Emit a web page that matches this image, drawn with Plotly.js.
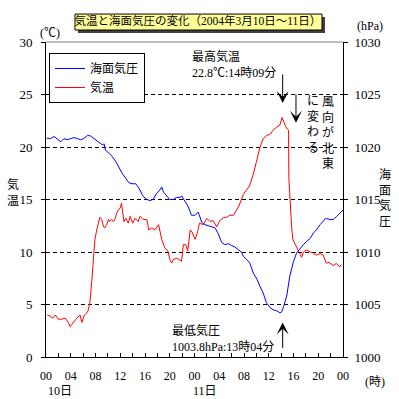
<!DOCTYPE html>
<html><head><meta charset="utf-8">
<script src="https://cdn.plot.ly/plotly-3.0.1.min.js"></script>
<style>html,body{margin:0;padding:0;background:#fff}#chart{width:399px;height:399px}</style>
</head><body><div id="chart"></div>
<script>
// Hours since 00:00 on the 10th
const tempHours = [0.2,0.65,1.1,1.5,2.0,2.5,3.1,3.6,3.9,4.4,5.0,5.5,5.8,6.2,6.6,6.8,7.1,7.4,7.7,7.9,8.2,8.5,8.7,9.0,9.3,9.5,9.8,10.1,10.3,10.6,10.9,11.2,11.4,11.7,12.0,12.2,12.4,12.6,12.9,13.3,13.6,14.0,14.4,14.9,15.2,15.7,16.3,16.6,17.1,17.6,18.2,18.4,18.7,19.2,19.7,20.0,20.3,20.6,21.1,21.5,21.9,22.2,22.6,22.9,23.3,23.6,24.1,24.5,24.8,25.4,26.0,26.5,27.0,27.6,28.1,28.7,29.2,29.7,30.3,30.8,31.2,31.9,32.4,32.9,33.5,34.1,34.6,35.1,35.6,36.2,36.7,37.3,37.8,38.15,38.4,38.7,39.0,39.2,39.25,39.45,39.7,39.9,40.2,40.5,41.0,41.3,41.6,42.1,42.7,43.2,43.7,44.3,44.8,45.3,45.8,46.4,46.9,47.5,47.7];
const tempValues = [4.0,3.9,3.7,4.0,3.6,3.6,3.7,3.3,2.9,3.3,3.7,4.0,3.3,4.0,4.2,4.4,5.2,7.2,9.7,11.2,12.1,12.9,13.3,13.1,12.4,12.3,12.6,13.1,12.9,13.1,12.9,13.2,13.7,14.0,14.2,14.65,13.9,12.9,13.2,12.75,13.4,12.75,13.2,12.9,13.4,13.1,13.1,12.1,12.3,12.1,12.6,11.9,11.2,10.4,10.1,9.3,8.95,9.3,9.4,9.3,9.1,10.7,10.7,10.1,12.1,11.9,11.2,11.9,12.75,12.6,13.2,12.9,13.0,12.4,13.0,13.3,13.3,13.5,13.5,14.0,14.4,15.5,15.9,16.3,17.4,18.7,20.0,20.8,21.1,21.2,21.6,21.9,22.1,22.8,22.4,22.0,21.7,21.6,17.0,14.7,12.4,11.2,10.8,10.4,9.9,9.5,10.0,10.2,10.0,9.9,9.7,9.85,9.7,8.95,9.0,8.7,8.9,8.6,8.8];

const presHours = [0.1,0.75,1.3,1.8,2.4,2.9,3.4,4.0,4.5,5.1,5.6,6.1,6.7,7.2,7.8,8.3,8.8,9.1,9.4,9.6,10.2,10.7,11.3,11.8,12.3,12.9,13.4,13.9,14.5,15.0,15.5,15.7,16.3,16.8,17.3,17.9,18.4,18.7,19.0,19.5,20.0,20.6,21.1,21.7,21.9,22.5,23.0,23.5,24.1,24.6,25.2,25.7,26.2,26.8,27.3,27.8,28.4,28.9,29.5,30.0,30.5,31.1,31.6,31.9,32.4,32.9,33.5,34.1,34.6,35.1,35.6,36.2,36.7,37.3,37.8,38.1,38.4,38.9,39.4,40.0,40.5,41.0,41.6,42.1,42.7,43.2,43.7,44.3,44.8,45.2,45.9,46.4,47.0,47.5,48.0];
const presValues = [1020.85,1020.8,1021.0,1020.8,1020.5,1020.8,1020.7,1020.8,1020.9,1020.8,1020.7,1020.8,1021.1,1021.05,1020.8,1020.6,1020.35,1020.2,1020.3,1019.7,1019.4,1019.1,1018.6,1018.0,1017.5,1017.0,1016.6,1016.5,1016.5,1016.1,1015.6,1015.3,1015.0,1014.9,1015.0,1015.6,1015.9,1016.2,1015.7,1015.4,1015.0,1015.0,1015.2,1015.2,1015.35,1014.8,1014.3,1013.5,1013.5,1013.8,1012.8,1012.6,1012.5,1012.4,1012.3,1011.8,1010.9,1010.7,1010.8,1010.6,1010.5,1010.2,1010.0,1009.6,1009.3,1009.0,1008.0,1007.4,1006.7,1006.1,1005.2,1004.7,1004.5,1004.4,1004.2,1004.3,1004.8,1005.8,1007.7,1009.1,1009.9,1010.3,1010.7,1011.0,1011.3,1011.8,1012.1,1012.6,1012.9,1013.2,1013.1,1013.1,1013.4,1013.7,1014.0];

const xTickVals = [0,2,4,6,8,10,12,14,16,18,20,22,24,26,28,30,32,34,36,38,40,42,44,46,48];
const xTickText = ["00","","04","","08","","12","","16","","20","","00","","04","","08","","12","","16","","20","","00"];
const tempTicks = [0,5,10,15,20,25,30];
const presTicks = [1000,1005,1010,1015,1020,1025,1030];

const NUMF = '"Liberation Serif", "Noto Sans CJK JP", serif';
const JPF = '"Liberation Serif", "Noto Sans CJK JP", sans-serif';

const traces = [
  {x: presHours, y: presValues, name: '海面気圧', type: 'scatter', mode: 'lines', yaxis: 'y2',
   line: {color: '#0000FF', width: 1}},
  {x: tempHours, y: tempValues, name: '気温', type: 'scatter', mode: 'lines',
   line: {color: '#FF0000', width: 1}}
];

const layout = {
  width: 399, height: 399,
  margin: {l: 46, r: 56, t: 42, b: 42},
  paper_bgcolor: '#fff', plot_bgcolor: '#fff',
  showlegend: true,
  title: {text: '気温と海面気圧の変化（2004年3月10日～11日）', font: {family: JPF, size: 11.5, color: '#000'},
          x: 0.496, xref: 'container', xanchor: 'center', y: 0.947, yref: 'container', yanchor: 'middle'},
  legend: {x: 0.01, y: 0.965, xanchor: 'left', yanchor: 'top', bgcolor: '#fff', bordercolor: '#000', borderwidth: 1,
           font: {family: JPF, size: 12, color: '#000'}, tracegroupgap: 0},
  xaxis: {range: [0, 48], tickvals: xTickVals, ticktext: xTickText, ticks: 'inside', ticklen: 4, tickcolor: '#000',
          showline: true, linecolor: '#000', linewidth: 1, showgrid: false, zeroline: false,
          ticklabelstandoff: 8, tickfont: {family: NUMF, size: 12, color: '#000'}, fixedrange: true},
  yaxis: {range: [0, 30], tickvals: tempTicks, ticks: 'outside', ticklen: 4, tickcolor: '#000',
          showline: true, linecolor: '#000', linewidth: 1, showgrid: true, gridcolor: '#000', gridwidth: 1,
          griddash: '4px,3px', zeroline: false, ticklabelstandoff: 6,
          tickfont: {family: NUMF, size: 13, color: '#000'}, fixedrange: true},
  yaxis2: {range: [1000, 1030], tickvals: presTicks, overlaying: 'y', side: 'right', ticks: 'outside', ticklen: 4,
           tickcolor: '#000', showline: true, linecolor: '#000', linewidth: 1, showgrid: false, zeroline: false,
           ticklabelstandoff: 4, tickfont: {family: NUMF, size: 13, color: '#000'}, fixedrange: true},
  shapes: [
    // title box shadow and box
    {type: 'rect', xref: 'paper', yref: 'paper', x0: 0.1077, x1: 0.9394, y0: 1.0285, y1: 1.0792,
     fillcolor: '#404040', line: {width: 0}, layer: 'above'},
    {type: 'rect', xref: 'paper', yref: 'paper', x0: 0.0976, x1: 0.9293, y0: 1.0380, y1: 1.0887,
     fillcolor: '#FFFF99', line: {color: '#000', width: 1}, layer: 'above'},
    // top border
    {type: 'line', xref: 'paper', yref: 'paper', x0: 0, x1: 1, y0: 1, y1: 1, line: {color: '#808080', width: 1}, layer: 'above'}
  ],
  annotations: [
    {xref: 'paper', yref: 'paper', x: 0.013, y: 1.028, text: '(℃)', showarrow: false, xanchor: 'center', yanchor: 'middle',
     font: {family: JPF, size: 12, color: '#000'}},
    {xref: 'paper', yref: 'paper', x: 1.091, y: 1.051, text: '(hPa)', showarrow: false, xanchor: 'center', yanchor: 'middle',
     font: {family: NUMF, size: 12, color: '#000'}},
    {xref: 'paper', yref: 'paper', x: -0.111, y: 0.522, text: '気<br>温', showarrow: false, xanchor: 'center', yanchor: 'middle',
     font: {family: JPF, size: 12, color: '#000'}},
    {xref: 'paper', yref: 'paper', x: 1.141, y: 0.503, text: '海<br>面<br>気<br>圧', showarrow: false, xanchor: 'center', yanchor: 'middle',
     font: {family: JPF, size: 12, color: '#000'}},
    {xref: 'paper', yref: 'paper', x: 1.108, y: -0.079, text: '(時)', showarrow: false, xanchor: 'center', yanchor: 'middle',
     font: {family: JPF, size: 12, color: '#000'}},
    {xref: 'paper', yref: 'paper', x: 0.047, y: -0.108, text: '10日', showarrow: false, xanchor: 'center', yanchor: 'middle',
     font: {family: JPF, size: 12, color: '#000'}},
    {xref: 'paper', yref: 'paper', x: 0.535, y: -0.108, text: '11日', showarrow: false, xanchor: 'center', yanchor: 'middle',
     font: {family: JPF, size: 12, color: '#000'}},
    {xref: 'paper', yref: 'paper', x: 0.485, y: 0.985, text: '最高気温<br>22.8℃:14時09分', showarrow: false, align: 'left',
     xanchor: 'left', yanchor: 'top', font: {family: JPF, size: 12, color: '#000'}},
    {xref: 'paper', yref: 'paper', x: 0.418, y: 0.114, text: '最低気圧<br>1003.8hPa:13時04分', showarrow: false, align: 'left',
     xanchor: 'left', yanchor: 'top', font: {family: JPF, size: 12, color: '#000'}},
    {xref: 'paper', yref: 'paper', x: 0.949, y: 0.711, text: '風<br>向<br>が<br>北<br>東', showarrow: false,
     xanchor: 'center', yanchor: 'middle', font: {family: JPF, size: 12, color: '#000'}},
    {xref: 'paper', yref: 'paper', x: 0.899, y: 0.737, text: 'に<br>変<br>わ<br>る', showarrow: false,
     xanchor: 'center', yanchor: 'middle', font: {family: JPF, size: 12, color: '#000'}},
    // arrows
    {xref: 'x', yref: 'y', x: 38.25, y: 24.2, ax: 0, ay: -30, text: '', showarrow: true, arrowhead: 3, arrowsize: 2, arrowwidth: 1, arrowcolor: '#000'},
    {xref: 'x', yref: 'y', x: 40.4, y: 22.3, ax: 0, ay: -30, text: '', showarrow: true, arrowhead: 3, arrowsize: 2, arrowwidth: 1, arrowcolor: '#000'},
    {xref: 'x', yref: 'y', x: 38.25, y: 3.28, ax: 0, ay: 27, text: '', showarrow: true, arrowhead: 3, arrowsize: 2, arrowwidth: 1, arrowcolor: '#000'}
  ]
};

Plotly.newPlot('chart', traces, layout, {staticPlot: true, displayModeBar: false});
</script></body></html>
